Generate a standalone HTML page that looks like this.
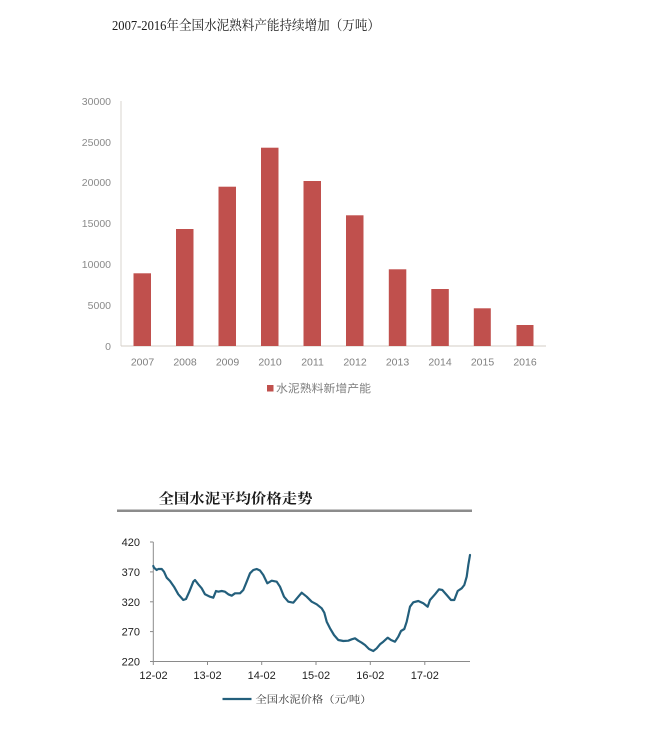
<!DOCTYPE html>
<html>
<head>
<meta charset="utf-8">
<style>
  html,body{margin:0;padding:0;background:#fff;}
  svg{display:block;}
</style>
</head>
<body>
<svg width="654" height="735" viewBox="0 0 654 735" xmlns="http://www.w3.org/2000/svg">
  <rect width="654" height="735" fill="#ffffff"/>

  <!-- Chart 1 title -->
  <text x="112" y="30" font-family="'Liberation Serif','Noto Serif CJK SC',serif" font-size="13.5" fill="#1a1a1a" textLength="268" lengthAdjust="spacingAndGlyphs">2007-2016年全国水泥熟料产能持续增加（万吨）</text>

  <!-- Chart 1 axes -->
  <line x1="121" y1="101" x2="121" y2="346" stroke="#d9d4cf" stroke-width="1"/>
  <line x1="121" y1="346" x2="546" y2="346" stroke="#d3ccc5" stroke-width="1"/>

  <!-- Chart 1 y labels -->
  <g font-family="'Liberation Sans',sans-serif" font-size="10.5" fill="#8a8a8a" text-anchor="end">
    <text x="111" y="105">30000</text>
    <text x="111" y="146">25000</text>
    <text x="111" y="186">20000</text>
    <text x="111" y="227">15000</text>
    <text x="111" y="268">10000</text>
    <text x="111" y="309">5000</text>
    <text x="111" y="350">0</text>
  </g>

  <!-- Bars -->
  <g fill="#c0504d">
    <rect x="133.5" y="273.3" width="17.5" height="72.7"/>
    <rect x="176" y="229" width="17.5" height="117"/>
    <rect x="218.5" y="186.7" width="17.5" height="159.3"/>
    <rect x="261" y="147.7" width="17.5" height="198.3"/>
    <rect x="303.5" y="181" width="17.5" height="165"/>
    <rect x="346" y="215.3" width="17.5" height="130.7"/>
    <rect x="388.8" y="269.3" width="17.5" height="76.7"/>
    <rect x="431.3" y="289" width="17.5" height="57"/>
    <rect x="473.8" y="308.3" width="17" height="37.7"/>
    <rect x="516.5" y="325" width="17" height="21"/>
  </g>

  <!-- Chart 1 x labels -->
  <g font-family="'Liberation Sans',sans-serif" font-size="10.5" fill="#7f7f7f" text-anchor="middle">
    <text x="142.5" y="365.5">2007</text>
    <text x="185" y="365.5">2008</text>
    <text x="227.5" y="365.5">2009</text>
    <text x="270" y="365.5">2010</text>
    <text x="312.5" y="365.5">2011</text>
    <text x="355" y="365.5">2012</text>
    <text x="397.5" y="365.5">2013</text>
    <text x="440" y="365.5">2014</text>
    <text x="482.5" y="365.5">2015</text>
    <text x="525" y="365.5">2016</text>
  </g>

  <!-- Chart 1 legend -->
  <rect x="267" y="385" width="6.5" height="6.5" fill="#c0504d"/>
  <text x="276" y="392" font-family="'Liberation Sans','Noto Sans CJK SC',sans-serif" font-size="11" fill="#808080" textLength="95" lengthAdjust="spacingAndGlyphs">水泥熟料新增产能</text>

  <!-- Chart 2 title -->
  <text x="158.5" y="503.5" font-family="'Liberation Serif','Noto Serif CJK SC',serif" font-size="14" font-weight="bold" fill="#1a1a1a" textLength="154" lengthAdjust="spacingAndGlyphs">全国水泥平均价格走势</text>
  <rect x="117" y="509.5" width="355" height="2.5" fill="#8c8c8c"/>

  <!-- Chart 2 axes -->
  <line x1="153.3" y1="542" x2="153.3" y2="661.5" stroke="#8a8a8a" stroke-width="1"/>
  <line x1="153.3" y1="661.5" x2="470" y2="661.5" stroke="#8a8a8a" stroke-width="1"/>
  <g stroke="#8a8a8a" stroke-width="1">
    <line x1="150" y1="542" x2="153.3" y2="542"/>
    <line x1="150" y1="571.9" x2="153.3" y2="571.9"/>
    <line x1="150" y1="601.8" x2="153.3" y2="601.8"/>
    <line x1="150" y1="631.6" x2="153.3" y2="631.6"/>
    <line x1="150" y1="661.5" x2="153.3" y2="661.5"/>
    <line x1="153.3" y1="661.5" x2="153.3" y2="665"/>
    <line x1="207.5" y1="661.5" x2="207.5" y2="665"/>
    <line x1="261.7" y1="661.5" x2="261.7" y2="665"/>
    <line x1="316" y1="661.5" x2="316" y2="665"/>
    <line x1="370.3" y1="661.5" x2="370.3" y2="665"/>
    <line x1="424.8" y1="661.5" x2="424.8" y2="665"/>
  </g>

  <!-- Chart 2 y labels -->
  <g font-family="'Liberation Sans',sans-serif" font-size="11" fill="#222" text-anchor="end">
    <text x="140" y="546">420</text>
    <text x="140" y="576">370</text>
    <text x="140" y="606">320</text>
    <text x="140" y="635.5">270</text>
    <text x="140" y="665.5">220</text>
  </g>
  <!-- Chart 2 x labels -->
  <g font-family="'Liberation Sans',sans-serif" font-size="11" fill="#222" text-anchor="middle">
    <text x="153.5" y="679">12-02</text>
    <text x="207.5" y="679">13-02</text>
    <text x="261.7" y="679">14-02</text>
    <text x="316" y="679">15-02</text>
    <text x="370.3" y="679">16-02</text>
    <text x="424.8" y="679">17-02</text>
  </g>

  <!-- Price line -->
  <polyline fill="none" stroke="#235f7c" stroke-width="2.2" stroke-linejoin="round" stroke-linecap="round"
    points="153.3,566 154,567.7 156.7,570 158.3,569 161.7,569 164,571.7 166.7,577.7 170,581 174,586.7 178.3,594.3 183.3,600 186,599 189.3,591.7 193.3,581.7 195,580 198.3,584.3 201.7,588.3 205,594.3 210,596.7 213.3,597.7 216,591 218.3,591.7 221.7,591 225,591.7 228.3,594.3 231.7,595.7 235,593.3 240,593.3 243.3,590 246.7,581.7 250,573.3 253.3,570 256.7,569 260,570.5 263.3,575 267.3,583.3 271.7,580.7 276.7,581.7 280,586.7 284,596.7 288.3,601.7 293.3,602.7 298.3,596.7 301.7,592.7 306.7,596.7 311.7,601.7 316.7,604.3 321.7,608.3 324.3,612.7 326.7,621.7 330,628.3 334,635 338.3,640 343.3,641 348.3,640.7 351.7,639.3 355,638.3 358.3,640.7 361.7,642.7 365,645 369,649 373.3,651 376.7,648.3 380,644.3 383.3,641.7 387.7,637.7 391,640 395,641.7 398.3,636.7 401,631 404.3,629 406.7,621.7 410,606.7 413.3,602.3 418.3,601 423.3,603.3 427.7,606.7 430,600 435,594.3 439,589.3 442.3,590 446.7,595 451,600 454.3,600 457.7,591 461.7,588.3 464.3,585 466.7,576.7 468.3,565 470,555"/>

  <!-- Chart 2 legend -->
  <line x1="222.5" y1="699" x2="251.5" y2="699" stroke="#235f7c" stroke-width="2.2"/>
  <text x="255.5" y="703" font-family="'Liberation Serif','Noto Serif CJK SC',serif" font-size="10" fill="#333" textLength="116" lengthAdjust="spacingAndGlyphs">全国水泥价格（元/吨）</text>
</svg>
</body>
</html>
